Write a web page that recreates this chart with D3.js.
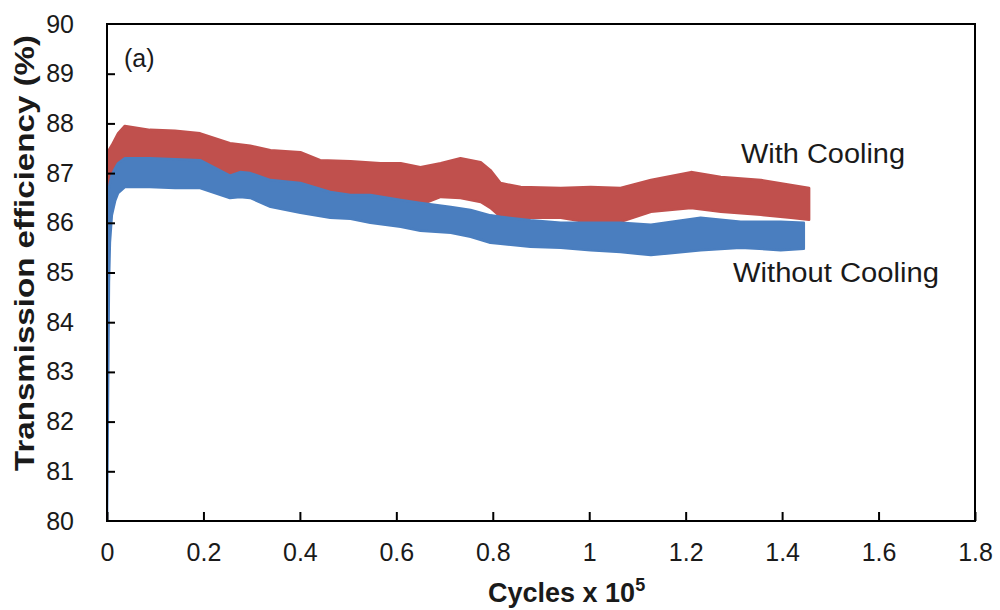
<!DOCTYPE html>
<html>
<head>
<meta charset="utf-8">
<script src="https://cdn.jsdelivr.net/npm/d3@7"></script>
<style>
  html, body { margin: 0; padding: 0; background: #fff; }
  svg { display: block; font-family: "Liberation Sans", Arial, sans-serif; }
</style>
</head>
<body>
<svg id="chart" width="1000" height="610"></svg>
<script>
// ---- data (x in cycles x 10^5, y in %) ----
const withX     = [0.000,0.010,0.023,0.037,0.089,0.141,0.193,0.255,0.297,0.339,0.401,0.442,0.505,0.567,0.609,0.650,0.692,0.733,0.775,0.795,0.816,0.858,0.941,1.003,1.065,1.128,1.211,1.273,1.356,1.418,1.456];
const withUpper = [87.40,87.56,87.80,87.95,87.87,87.85,87.80,87.60,87.55,87.46,87.42,87.26,87.24,87.20,87.20,87.12,87.20,87.30,87.22,87.06,86.80,86.72,86.70,86.72,86.70,86.86,87.02,86.92,86.86,86.76,86.70];
const withLower = [86.40,86.60,86.90,87.10,87.10,87.10,87.05,86.90,86.85,86.75,86.70,86.60,86.60,86.50,86.46,86.36,86.52,86.50,86.42,86.30,86.12,86.10,86.10,86.00,86.02,86.22,86.30,86.22,86.16,86.10,86.06];

const withoutX     = [0.000,0.004,0.006,0.010,0.017,0.023,0.037,0.089,0.141,0.193,0.255,0.276,0.297,0.339,0.401,0.463,0.505,0.546,0.609,0.650,0.713,0.754,0.795,0.816,0.878,0.941,1.003,1.065,1.128,1.231,1.314,1.397,1.445];
const withoutUpper = [86.40,86.70,86.80,86.96,87.10,87.20,87.30,87.30,87.28,87.26,86.95,87.02,87.00,86.86,86.80,86.62,86.56,86.56,86.46,86.40,86.32,86.26,86.15,86.12,86.05,86.00,86.00,86.00,85.96,86.10,86.02,86.02,86.00];
const withoutLower = [80.00,84.80,85.60,86.15,86.45,86.60,86.72,86.72,86.70,86.70,86.50,86.52,86.50,86.32,86.20,86.10,86.08,86.00,85.92,85.84,85.80,85.72,85.60,85.58,85.52,85.50,85.45,85.41,85.35,85.45,85.50,85.45,85.48];

const xTickValues = [0,0.2,0.4,0.6,0.8,1,1.2,1.4,1.6,1.8];
const xTickLabels = ["0","0.2","0.4","0.6","0.8","1","1.2","1.4","1.6","1.8"];
const yTickValues = [80,81,82,83,84,85,86,87,88,89,90];
const yTickLabels = ["80","81","82","83","84","85","86","87","88","89","90"];

const seriesNames = ["With Cooling","Without Cooling"];
const xTitle = "Cycles x 10";
const xTitleSup = "5";
const yTitle = "Transmission  efficiency (%)";
const panelLabel = "(a)";

// ---- layout ----
const W = 1000, H = 610;
const margin = {left: 107, right: 25, top: 24, bottom: 89};
const svg = d3.select("#chart");

const x = d3.scaleLinear().domain([0, 1.8]).range([margin.left, W - margin.right]);
const y = d3.scaleLinear().domain([80, 90]).range([H - margin.bottom, margin.top]);

const red = "#C0504D", blue = "#4A7EBF";

function band(xs, up, lo) {
  return xs.map((v, i) => ({x: v, u: up[i], l: lo[i]}));
}
const area = d3.area()
  .x(d => x(d.x))
  .y0(d => y(d.l))
  .y1(d => y(d.u))
  .curve(d3.curveLinear);

const clip = svg.append("clipPath").attr("id", "plotclip")
  .append("rect")
  .attr("x", margin.left).attr("y", margin.top)
  .attr("width", W - margin.left - margin.right)
  .attr("height", H - margin.top - margin.bottom);

const plot = svg.append("g").attr("clip-path", "url(#plotclip)");

plot.append("path")
  .datum(band(withX, withUpper, withLower))
  .attr("d", area)
  .attr("fill", red).attr("stroke", red)
  .attr("stroke-width", 2.5).attr("stroke-linejoin", "round");

plot.append("path")
  .datum(band(withoutX, withoutUpper, withoutLower))
  .attr("d", area)
  .attr("fill", blue).attr("stroke", blue)
  .attr("stroke-width", 2.5).attr("stroke-linejoin", "round");

// ---- axes ----
const xAxis = d3.axisBottom(x)
  .tickValues(xTickValues)
  .tickFormat((d, i) => xTickLabels[i])
  .tickSizeInner(-9).tickSizeOuter(0).tickPadding(22);
const gx = svg.append("g")
  .attr("transform", `translate(0,${H - margin.bottom})`)
  .call(xAxis);
gx.select(".domain").remove();
gx.selectAll(".tick line").attr("stroke", "#000").attr("stroke-width", 2);
gx.selectAll(".tick text")
  .attr("fill", "#1a1a1a")
  .style("font-size", "25px")
  .attr("dy", "0.71em");

const yAxis = d3.axisLeft(y)
  .tickValues(yTickValues)
  .tickFormat((d, i) => yTickLabels[i])
  .tickSizeInner(-8).tickSizeOuter(0).tickPadding(33);
const gy = svg.append("g")
  .attr("transform", `translate(${margin.left},0)`)
  .call(yAxis);
gy.select(".domain").remove();
gy.selectAll(".tick line").attr("stroke", "#000").attr("stroke-width", 2);
gy.selectAll(".tick line").filter(d => d === 90 || d === 80).remove();
gy.selectAll(".tick text")
  .attr("fill", "#1a1a1a")
  .style("font-size", "25px");

// frame
svg.append("rect")
  .attr("x", margin.left).attr("y", margin.top)
  .attr("width", W - margin.left - margin.right)
  .attr("height", H - margin.top - margin.bottom)
  .attr("fill", "none").attr("stroke", "#000").attr("stroke-width", 2);

// ---- titles ----
const xt = svg.append("text")
  .attr("x", 488).attr("y", 602)
  .attr("fill", "#1a1a1a")
  .style("font-size", "27px").style("font-weight", "bold");
xt.append("tspan").text(xTitle);
xt.append("tspan").text(xTitleSup).attr("dy", -11).style("font-size", "18px");

svg.append("text")
  .attr("transform", "translate(34,471) rotate(-90)")
  .attr("x", 0).attr("y", 0)
  .attr("fill", "#1a1a1a")
  .attr("textLength", 436).attr("lengthAdjust", "spacingAndGlyphs")
  .style("font-size", "27px").style("font-weight", "bold")
  .text(yTitle);

svg.append("text")
  .attr("x", 124).attr("y", 67)
  .attr("fill", "#1a1a1a")
  .style("font-size", "25px")
  .text(panelLabel);

svg.append("text")
  .attr("x", 741).attr("y", 163)
  .attr("fill", "#1a1a1a")
  .attr("textLength", 164).attr("lengthAdjust", "spacingAndGlyphs")
  .style("font-size", "27px")
  .text(seriesNames[0]);

svg.append("text")
  .attr("x", 733).attr("y", 282)
  .attr("fill", "#1a1a1a")
  .attr("textLength", 206).attr("lengthAdjust", "spacingAndGlyphs")
  .style("font-size", "27px")
  .text(seriesNames[1]);
</script>
</body>
</html>
